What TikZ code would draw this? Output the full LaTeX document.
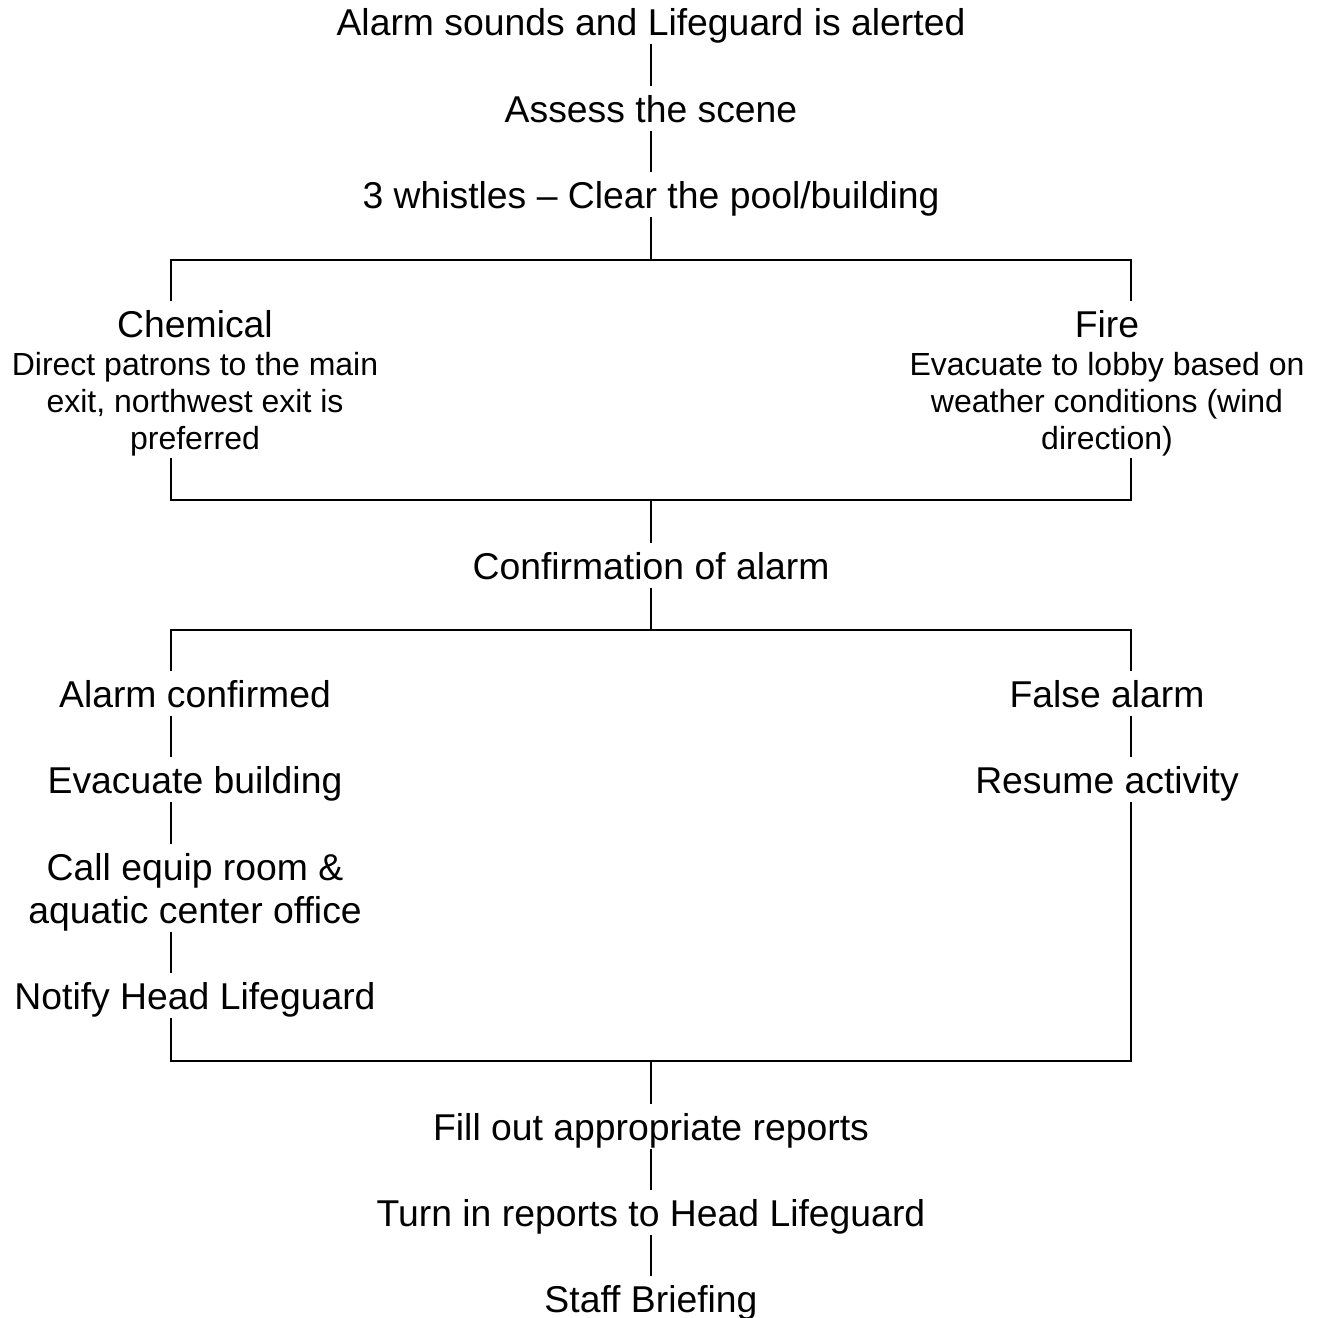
\documentclass[tikz,border=0pt]{standalone}
\usepackage{fontspec}
\setmainfont{Liberation Sans}
\begin{document}
\begin{tikzpicture}[x=0.75pt,y=-0.75pt,line width=1.5pt,
  big/.style={font=\fontsize{28}{32.25}\selectfont, inner xsep=0pt, inner ysep=6pt,
    text height=20pt, text depth=0pt, anchor=base},
  bigtwo/.style={big, text depth=32.25pt},
  small/.style={font=\fontsize{24}{27.75}\selectfont, inner xsep=0pt, inner ysep=6pt,
    text height=17.2pt, text depth=55.5pt, anchor=base}]
\useasboundingbox (0,0) rectangle (1319,1317);
% nodes
\node[big] (alarm)   at (651,35)  {Alarm sounds and Lifeguard is alerted};
\node[big] (assess)  at (651,122) {Assess the scene};
\node[big] (whistle) at (651,208) {3 whistles – Clear the pool/building};
\node[big] (chemT)   at (195,337) {Chemical};
\node[small] (chemB) at (195,375) {\begin{tabular}[t]{@{}c@{}}Direct patrons to the main\\exit, northwest exit is\\preferred\end{tabular}};
\node[big] (fireT)   at (1107,337) {Fire};
\node[small] (fireB) at (1107,375) {\begin{tabular}[t]{@{}c@{}}Evacuate to lobby based on\\weather conditions (wind\\direction)\end{tabular}};
\node[big] (conf)    at (651,579) {Confirmation of alarm};
\node[big] (aconf)   at (195,707) {Alarm confirmed};
\node[big] (evac)    at (195,793) {Evacuate building};
\node[bigtwo] (call) at (195,880) {\begin{tabular}[t]{@{}c@{}}Call equip room \&\\aquatic center office\end{tabular}};
\node[big] (notify)  at (195,1009) {Notify Head Lifeguard};
\node[big] (false)   at (1107,707) {False alarm};
\node[big] (resume)  at (1107,793) {Resume activity};
\node[big] (fill)    at (651,1140) {Fill out appropriate reports};
\node[big] (turn)    at (651,1226) {Turn in reports to Head Lifeguard};
\node[big] (staff)   at (651,1312) {Staff Briefing};
% junction coordinates
\coordinate (h1l) at (171,260);  \coordinate (h1r) at (1131,260);
\coordinate (h2l) at (171,500);  \coordinate (h2r) at (1131,500);
\coordinate (h3l) at (171,630);  \coordinate (h3r) at (1131,630);
\coordinate (h4l) at (171,1061); \coordinate (h4r) at (1131,1061);
% connectors
\draw (alarm.south) -- (assess.north);
\draw (assess.south) -- (whistle.north);
\draw (whistle.south) -- (whistle.south |- h1l);
\draw (h1l |- chemT.north) -- (h1l) -- (h1r) -- (h1r |- fireT.north);
\draw (h2l |- chemB.south) -- (h2l) -- (h2r) -- (h2r |- fireB.south);
\draw (conf.north |- h2l) -- (conf.north);
\draw (conf.south) -- (conf.south |- h3l);
\draw (h3l |- aconf.north) -- (h3l) -- (h3r) -- (h3r |- false.north);
\draw (h3l |- aconf.south) -- (h3l |- evac.north);
\draw (h3l |- evac.south) -- (h3l |- call.north);
\draw (h3l |- call.south) -- (h3l |- notify.north);
\draw (h4l |- notify.south) -- (h4l) -- (h4r) -- (h4r |- resume.south);
\draw (h3r |- false.south) -- (h3r |- resume.north);
\draw (fill.north |- h4l) -- (fill.north);
\draw (fill.south) -- (turn.north);
\draw (turn.south) -- (staff.north);
\end{tikzpicture}
\end{document}
